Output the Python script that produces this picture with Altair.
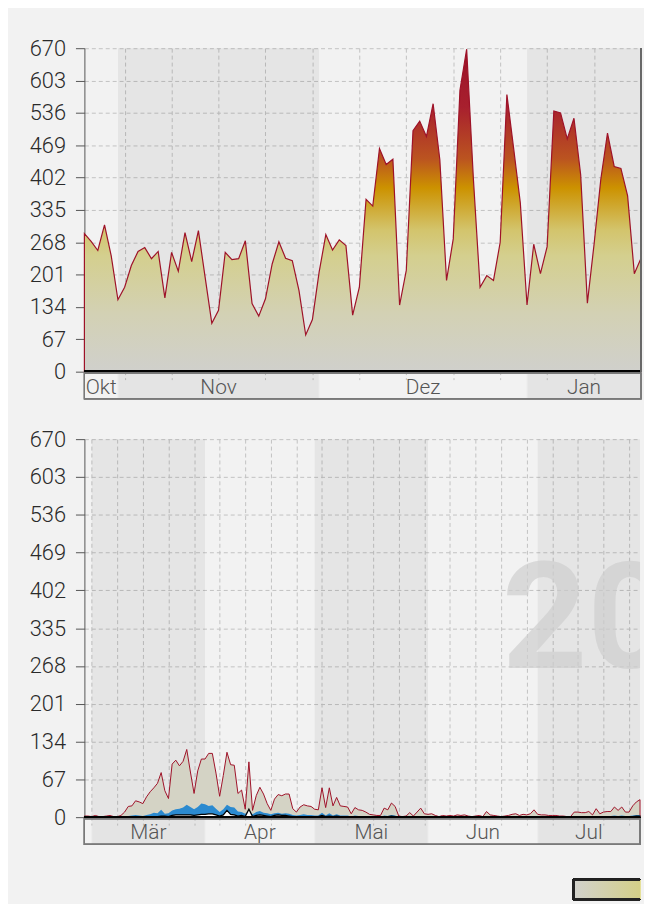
import altair as alt
import pandas as pd
from datetime import date, timedelta

# ---------------- data ----------------
TOP_START = date(2020, 10, 27)
TOP_END = date(2021, 1, 18)
BOT_START = date(2021, 2, 27)
BOT_END = date(2021, 7, 29)

top_months = ["Okt", "Nov", "Dez", "Jan"]
bot_months = ["Feb", "Mär", "Apr", "Mai", "Jun", "Jul"]
y_ticks = [0, 67, 134, 201, 268, 335, 402, 469, 536, 603, 670]
watermark = "2021"

top_values = [286, 270, 251, 304, 240, 149, 175, 220, 249, 257,
              234, 249, 153, 247, 208, 288, 228, 292, 196, 100,
              127, 247, 232, 234, 271, 141, 115, 151, 223, 269,
              235, 230, 168, 76, 108, 206, 284, 252, 273, 261,
              117, 175, 357, 343, 462, 429, 440, 138, 210, 499,
              519, 487, 555, 439, 189, 275, 583, 668, 400, 175,
              199, 189, 268, 574, 463, 350, 138, 264, 203, 259,
              540, 536, 482, 525, 408, 142, 264, 398, 494, 425,
              421, 364, 203, 235]

bot_total = [2, 2, 1, 3, 1, 1, 2, 3, 1, 1,
             3, 9, 19, 20, 29, 27, 24, 36, 45, 52,
             60, 79, 47, 33, 94, 101, 91, 99, 120, 80,
             42, 82, 103, 103, 113, 113, 78, 37, 74, 115,
             93, 92, 42, 48, 14, 98, 12, 38, 53, 41,
             24, 12, 32, 40, 38, 41, 41, 15, 9, 18,
             22, 20, 19, 14, 13, 52, 17, 52, 20, 35,
             20, 19, 18, 6, 17, 13, 12, 9, 5, 4,
             3, 3, 16, 13, 25, 19, 2, 1, 2, 8,
             2, 9, 16, 6, 5, 6, 3, 1, 3, 2,
             3, 2, 4, 3, 4, 2, 1, 2, 3, 1,
             10, 4, 3, 2, 1, 2, 3, 5, 6, 3,
             5, 4, 6, 13, 5, 4, 4, 3, 3, 3,
             2, 2, 1, 1, 9, 9, 8, 8, 10, 4,
             15, 6, 9, 10, 10, 18, 12, 18, 9, 9,
             20, 27, 31]

bot_blue = [0, 0, 0, 0, 0, 0, 0, 0, 0, 0,
            0, 1, 2, 3, 4, 3, 2, 4, 5, 8,
            7, 13, 6, 7, 12, 14, 15, 17, 22, 18,
            14, 18, 24, 23, 20, 21, 15, 9, 14, 22,
            18, 17, 10, 9, 6, 12, 5, 9, 11, 8,
            7, 5, 7, 8, 6, 7, 6, 4, 3, 4,
            5, 4, 4, 3, 3, 8, 3, 7, 3, 5,
            3, 3, 3, 1, 3, 2, 2, 1, 1, 1,
            0, 0, 3, 2, 4, 3, 0, 0, 0, 1,
            0, 1, 2, 1, 1, 1, 0, 0, 0, 0,
            0, 0, 1, 0, 1, 0, 0, 0, 0, 0,
            1, 0, 0, 0, 0, 0, 0, 1, 1, 0,
            1, 0, 1, 2, 1, 0, 1, 0, 0, 0,
            0, 0, 0, 0, 2, 2, 1, 1, 2, 1,
            2, 1, 1, 2, 2, 3, 2, 3, 2, 2,
            3, 4, 4]

bot_black = [0, 0, 0, 0, 0, 0, 0, 0, 0, 0,
             0, 0, 0, 0, 0, 0, 0, 1, 1, 1,
             1, 2, 2, 1, 3, 4, 4, 4, 4, 4,
             3, 4, 5, 5, 6, 6, 4, 2, 4, 12,
             5, 4, 2, 3, 1, 14, 1, 3, 4, 3,
             2, 1, 3, 4, 3, 3, 2, 1, 1, 1,
             1, 1, 1, 1, 1, 3, 1, 2, 1, 2,
             1, 1, 1, 0, 1, 1, 1, 0, 0, 0,
             0, 0, 1, 1, 2, 1, 0, 0, 0, 0,
             0, 0, 1, 0, 0, 0, 0, 0, 0, 0,
             0, 0, 0, 0, 0, 0, 0, 0, 0, 0,
             0, 0, 0, 0, 0, 0, 0, 0, 0, 0,
             0, 0, 0, 1, 0, 0, 0, 0, 0, 0,
             0, 0, 0, 0, 1, 1, 0, 0, 1, 0,
             1, 0, 0, 1, 1, 1, 1, 1, 1, 1,
             1, 2, 2]

# ---------------- styling ----------------
FONT = "Roboto"
GRID = "#c2c2c2"
BG = "#f2f2f2"
RED = "#9e1228"

top_gradient = alt.Gradient(
    gradient="linear",
    stops=[
        alt.GradientStop(color="#9a1228", offset=0.0),
        alt.GradientStop(color="#a8202e", offset=0.18),
        alt.GradientStop(color="#bb5420", offset=0.34),
        alt.GradientStop(color="#cc9200", offset=0.43),
        alt.GradientStop(color="#d3c46c", offset=0.56),
        alt.GradientStop(color="#d4cf8e", offset=0.64),
        alt.GradientStop(color="#d3d1b4", offset=0.82),
        alt.GradientStop(color="#d0d0cc", offset=1.0),
    ],
    x1=0, x2=0, y1=0, y2=1,
)
legend_gradient = alt.Gradient(
    gradient="linear",
    stops=[
        alt.GradientStop(color="#d2d2cd", offset=0.0),
        alt.GradientStop(color="#d4cf88", offset=1.0),
    ],
    x1=0, x2=1, y1=0, y2=0,
)


def month_cells(start, end, names):
    cells = []
    y, m = start.year, start.month
    k = 0
    while True:
        ms = date(y, m, 1)
        if ms > end:
            break
        nm = date(y + (1 if m == 12 else 0), 1 if m == 12 else m + 1, 1)
        s = max(ms, start)
        e = min(nm, end)
        sd = (s - start).days
        ed = (e - start).days
        cells.append({"label": names[k], "x": sd, "x2": ed, "mid": (sd + ed) / 2,
                      "shade": m % 2 == 1, "show": (ed - sd) >= 4})
        k += 1
        y, m = nm.year, nm.month
    return pd.DataFrame(cells)


def mondays(start, end):
    n = (end - start).days
    return [d for d in range(n + 1) if (start + timedelta(days=d)).weekday() == 0]


def base_layers(start, end, names, W, H):
    n = (end - start).days
    xs = alt.Scale(domain=[0, n], nice=False, zero=False)
    xaxis = alt.Axis(values=mondays(start, end), tickCount=60, title=None, labels=False,
                     domain=False, grid=True, gridDash=[4, 3], gridColor=GRID, gridWidth=1,
                     ticks=True, tickSize=8, tickDash=[3, 3], tickColor=GRID)
    cells = month_cells(start, end, names)
    shaded = cells[cells["shade"]]
    labelled = cells[cells["show"]]

    shade_plot = alt.Chart(shaded).mark_rect(fill="black", opacity=0.05).encode(
        x=alt.X("x:Q", scale=xs, axis=xaxis), x2="x2:Q",
        y=alt.value(0), y2=alt.value(H))
    band_shade = alt.Chart(shaded).mark_rect(fill="black", opacity=0.05, stroke="#9a9a9a",
                                              strokeOpacity=1, strokeWidth=1).encode(
        x=alt.X("x:Q", scale=xs, axis=xaxis), x2="x2:Q",
        y=alt.value(H + 1.5), y2=alt.value(H + 27.5))
    band_box = alt.Chart(cells).mark_rect(fill=None, stroke="#7a7a7a", strokeWidth=1.2).encode(
        x=alt.datum(0, scale=xs, axis=xaxis), x2=alt.datum(n),
        y=alt.value(H + 1.5), y2=alt.value(H + 27.5))
    band_text = alt.Chart(labelled).mark_text(font=FONT, fontWeight=300, fontSize=21,
                                              color="#555555", baseline="alphabetic",
                                              align="center").encode(
        x=alt.X("mid:Q", scale=xs, axis=xaxis), y=alt.value(H + 22.5), text="label:N")
    return xs, xaxis, n, shade_plot, [band_shade, band_box, band_text]


ys = alt.Scale(domain=[0, 670], nice=False, zero=True)
yaxis = alt.Axis(values=y_ticks, tickCount=20, title=None, grid=True, gridDash=[4, 3],
                 gridColor=GRID, domainColor="#555555", tickColor="#555555", tickSize=9,
                 labelPadding=10, labelOverlap=False, labelFontSize=22, labelColor="#2a2a2a",
                 labelFont=FONT, labelFontWeight=300)

# ---------------- top panel ----------------
TW, TH = 561, 326
xs_t, xaxis_t, n_t, shade_t, band_t = base_layers(TOP_START, TOP_END, top_months, TW, TH)
top_df = pd.DataFrame({"d": list(range(len(top_values))), "v": top_values})
top_area = alt.Chart(top_df).mark_area(fill=top_gradient, stroke=RED, strokeWidth=1.2,
                                       strokeJoin="miter").encode(
    x=alt.X("d:Q", scale=xs_t, axis=xaxis_t), y=alt.Y("v:Q", scale=ys, axis=yaxis))
zero_t = alt.Chart(top_df).mark_rule(color="black", strokeWidth=2).encode(
    y=alt.datum(0, scale=ys, axis=yaxis))
right_t = alt.Chart(top_df).mark_rule(color="#6a6a6a", strokeWidth=1).encode(
    x=alt.datum(n_t, scale=xs_t, axis=xaxis_t), y=alt.value(0), y2=alt.value(TH))
top = alt.layer(shade_t, top_area, zero_t, right_t, *band_t).properties(width=TW, height=TH)

# ---------------- bottom panel ----------------
BW, BH = 560, 381
xs_b, xaxis_b, n_b, shade_b, band_b = base_layers(BOT_START, BOT_END, bot_months, BW, BH)
bot_df = pd.DataFrame({"d": list(range(len(bot_total))), "total": bot_total,
                       "blue": bot_blue, "black": bot_black})
wm = alt.Chart(pd.DataFrame({"t": [watermark]})).mark_text(
    font=FONT, fontWeight="bold", fontSize=150, color="#cfcfcf", opacity=0.7,
    align="left", baseline="alphabetic", clip=True).encode(
    text="t:N", x=alt.value(421), y=alt.value(231))
total_area = alt.Chart(bot_df).mark_area(fill="#d4d3c5", stroke=RED, strokeWidth=1).encode(
    x=alt.X("d:Q", scale=xs_b, axis=xaxis_b), y=alt.Y("total:Q", scale=ys, axis=yaxis))
blue_area = alt.Chart(bot_df).mark_area(fill="#2b8ad0").encode(
    x=alt.X("d:Q", scale=xs_b, axis=xaxis_b), y=alt.Y("blue:Q", scale=ys, axis=yaxis))
black_area = alt.Chart(bot_df).mark_area(fill="white", stroke="black", strokeWidth=1.3).encode(
    x=alt.X("d:Q", scale=xs_b, axis=xaxis_b), y=alt.Y("black:Q", scale=ys, axis=yaxis))
zero_b = alt.Chart(bot_df).mark_rule(color="black", strokeWidth=2).encode(
    y=alt.datum(0, scale=ys, axis=yaxis))

legend_rect = alt.Chart(bot_df).mark_rect(fill=legend_gradient).encode(
    x=alt.value(493), x2=alt.value(BW), y=alt.value(444), y2=alt.value(464))
legend_edges = [
    alt.Chart(bot_df).mark_rule(color="#222222", strokeWidth=2).encode(
        x=alt.value(493), x2=alt.value(BW), y=alt.value(444)),
    alt.Chart(bot_df).mark_rule(color="#222222", strokeWidth=2).encode(
        x=alt.value(493), x2=alt.value(BW), y=alt.value(464)),
    alt.Chart(bot_df).mark_rule(color="#222222", strokeWidth=2).encode(
        x=alt.value(493), y=alt.value(444), y2=alt.value(464)),
]

bottom = alt.layer(shade_b, wm, total_area, blue_area, black_area, zero_b, *band_b,
                   legend_rect, *legend_edges).properties(width=BW, height=BH)

chart = alt.vconcat(top, bottom, spacing=28).properties(
    padding={"left": 21, "top": 26, "right": 0, "bottom": 0},
    background=BG,
).configure_view(stroke=None)

chart.save("out.html", embed_options={"renderer": "svg", "actions": False})
